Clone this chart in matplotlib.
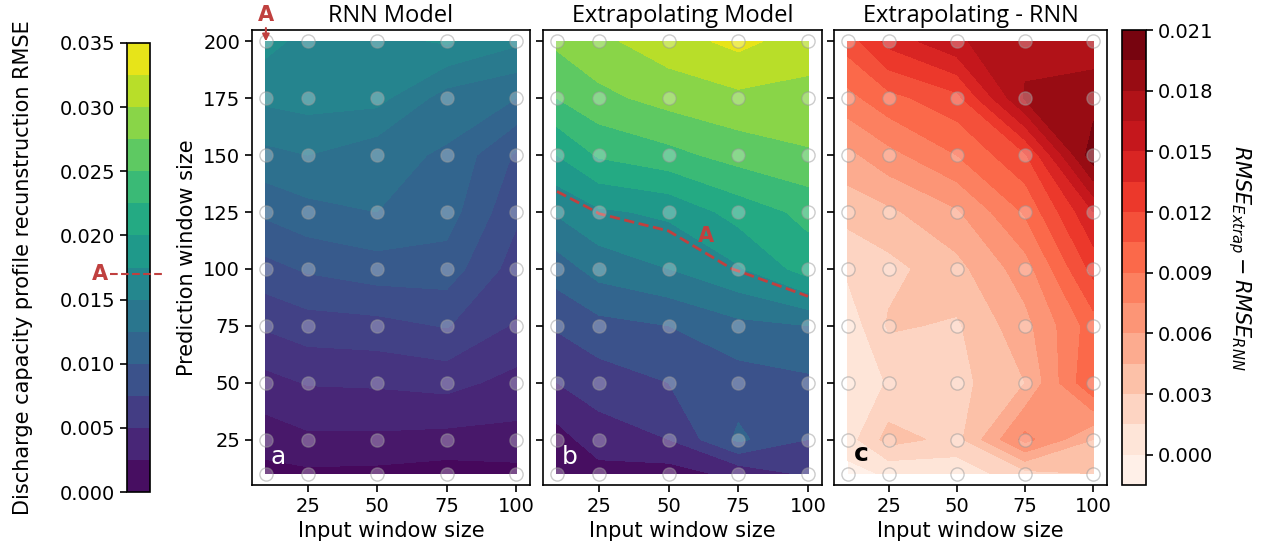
import numpy as np
import matplotlib
matplotlib.use("Agg")
import matplotlib.pyplot as plt
import matplotlib.transforms as mtransforms

# ---------------- data ----------------
input_window = [10, 25, 50, 75, 100]
prediction_window = [10, 25, 50, 75, 100, 125, 150, 175, 200]

# rows follow prediction_window (10 -> 200), columns follow input_window
rmse_rnn = [
    [0.0010, 0.0012, 0.0011, 0.0008, 0.0010],
    [0.0022, 0.0027, 0.0027, 0.0025, 0.0025],
    [0.0040, 0.0046, 0.0047, 0.0050, 0.0040],
    [0.0062, 0.0068, 0.0070, 0.0076, 0.0058],
    [0.0085, 0.0092, 0.0098, 0.0098, 0.0068],
    [0.0108, 0.0115, 0.0120, 0.0112, 0.0078],
    [0.0131, 0.0135, 0.0125, 0.0118, 0.0088],
    [0.0153, 0.0156, 0.0155, 0.0128, 0.0120],
    [0.0170, 0.0160, 0.0160, 0.0167, 0.0153],
]

rmse_extrap = [
    [0.0008, 0.0016, 0.0014, 0.0032, 0.0055],
    [0.0015, 0.0038, 0.0050, 0.0105, 0.0075],
    [0.0050, 0.0062, 0.0075, 0.0088, 0.0095],
    [0.0078, 0.0092, 0.0100, 0.0118, 0.0125],
    [0.0112, 0.0135, 0.0150, 0.0172, 0.0212],
    [0.0153, 0.0171, 0.0180, 0.0210, 0.0232],
    [0.0200, 0.0228, 0.0242, 0.0260, 0.0272],
    [0.0250, 0.0268, 0.0284, 0.0294, 0.0292],
    [0.0280, 0.0294, 0.0314, 0.0332, 0.0312],
]

rmse_diff = [
    [-0.0005, 0.0002, 0.0005, 0.0025, 0.0030],
    [0.0008, 0.0036, 0.0025, 0.0080, 0.0045],
    [0.0006, 0.0016, 0.0025, 0.0045, 0.0105],
    [0.0005, 0.0032, 0.0028, 0.0055, 0.0098],
    [0.0018, 0.0025, 0.0040, 0.0068, 0.0125],
    [0.0035, 0.0042, 0.0058, 0.0092, 0.0150],
    [0.0056, 0.0070, 0.0090, 0.0118, 0.0205],
    [0.0085, 0.0100, 0.0115, 0.0182, 0.0188],
    [0.0112, 0.0140, 0.0163, 0.0175, 0.0172],
]

A_value = 0.0170   # RNN error at input 10 / prediction 200

titles = ["RNN Model", "Extrapolating Model", "Extrapolating - RNN"]
panel_letters = ["a", "b", "c"]
x_ticks = [25, 50, 75, 100]
y_ticks = [25, 50, 75, 100, 125, 150, 175, 200]
left_cbar_ticks = [0.000, 0.005, 0.010, 0.015, 0.020, 0.025, 0.030, 0.035]
right_cbar_ticks = [0.000, 0.003, 0.006, 0.009, 0.012, 0.015, 0.018, 0.021]

# ---------------- style ----------------
plt.rcParams['font.family'] = ['DejaVu Sans']
plt.rcParams['axes.linewidth'] = 1.2
RED = '#c0403f'

X, Y = np.meshgrid(input_window, prediction_window)
Za = np.array(rmse_rnn)
Zb = np.array(rmse_extrap)
Zc = np.array(rmse_diff)

levels_a = np.linspace(0.0, 0.018, 13)
levels_b = np.linspace(0.0, 0.035, 15)
levels_c = np.linspace(-0.0015, 0.021, 16)

fig = plt.figure(figsize=(12.75, 5.54), dpi=100)
W, H = 1275.0, 554.0

def rect(x0, x1, y0, y1):
    return [x0 / W, 1 - y1 / H, (x1 - x0) / W, (y1 - y0) / H]

ax_a = fig.add_axes(rect(252, 530, 30, 485))
ax_b = fig.add_axes(rect(543, 822, 30, 485))
ax_c = fig.add_axes(rect(834, 1107, 30, 485))
cax_l = fig.add_axes(rect(127, 150, 43, 492))
cax_r = fig.add_axes(rect(1122, 1146, 30, 485))

cs_a = ax_a.contourf(X, Y, Za, levels=levels_a, cmap='viridis', vmin=0.0, vmax=0.035)
cs_b = ax_b.contourf(X, Y, Zb, levels=levels_b, cmap='viridis', vmin=0.0, vmax=0.035)
cs_c = ax_c.contourf(X, Y, Zc, levels=levels_c, cmap='Reds')

ax_b.contour(X, Y, Zb, levels=[A_value], colors=RED, linestyles='--', linewidths=2)

for i, ax in enumerate([ax_a, ax_b, ax_c]):
    ax.scatter(X.ravel(), Y.ravel(), s=90, facecolors=(1, 1, 1, 0.28),
               edgecolors=(0.6, 0.6, 0.6, 0.5), linewidths=1.0, zorder=3, clip_on=False)
    ax.set_xlim(5, 105)
    ax.set_ylim(5, 205)
    ax.set_xticks(x_ticks)
    ax.set_yticks(y_ticks)
    ax.tick_params(labelsize=14, length=5, width=1.2)
    ax.set_xlabel("Input window size", fontsize=15)
    ax.set_title(titles[i], fontsize=17, family='Open Sans', pad=6)
    if i > 0:
        ax.tick_params(labelleft=False)

ax_a.set_ylabel("Prediction window size", fontsize=15, labelpad=4)

ax_a.text(14.5, 17.5, panel_letters[0], color='white', fontsize=18, ha='center', va='center', zorder=4)
ax_b.text(14.5, 17.5, panel_letters[1], color='white', fontsize=18, ha='center', va='center', zorder=4)
ax_c.text(15.0, 18.5, panel_letters[2], color='black', fontsize=18, fontweight='bold',
          ha='center', va='center', zorder=4)

# "A" markers
ax_a.annotate('A', xy=(10, 200), xytext=(10, 211.5), color=RED, fontsize=15, fontweight='bold',
              ha='center', va='center', annotation_clip=False,
              arrowprops=dict(arrowstyle='-|>', color=RED, lw=1.5, shrinkA=0, shrinkB=0,
                              mutation_scale=10))
ax_b.text(63.5, 114.5, 'A', color=RED, fontsize=15, fontweight='bold', ha='center', va='center', zorder=4)

# colorbars
cb_l = fig.colorbar(cs_b, cax=cax_l, ticks=left_cbar_ticks)
cax_l.yaxis.set_ticks_position('left')
cax_l.yaxis.set_label_position('left')
cb_l.ax.tick_params(labelsize=14, length=5, width=1.2)
cb_l.ax.set_yticklabels([f"{t:.3f}" for t in left_cbar_ticks])
cb_l.set_label("Discharge capacity profile recunstruction RMSE", fontsize=15, labelpad=19)
cb_l.outline.set_linewidth(1.2)
trans_l = mtransforms.blended_transform_factory(cax_l.transAxes, cax_l.transData)
cax_l.plot([-0.75, 1.55], [A_value, A_value], color=RED, ls='--', lw=1.5, transform=trans_l,
           clip_on=False, zorder=5)
cax_l.text(-1.18, A_value, 'A', color=RED, fontsize=15, fontweight='bold', ha='center', va='center',
           transform=trans_l)

cb_r = fig.colorbar(cs_c, cax=cax_r, ticks=right_cbar_ticks)
cb_r.ax.tick_params(labelsize=14, length=5, width=1.2)
cb_r.ax.set_yticklabels([f"{t:.3f}" for t in right_cbar_ticks])
cb_r.set_label(r"$RMSE_{Extrap} - RMSE_{RNN}$", fontsize=15, rotation=270, labelpad=28)
cb_r.outline.set_linewidth(1.2)

fig.savefig("out.png", dpi=100)
